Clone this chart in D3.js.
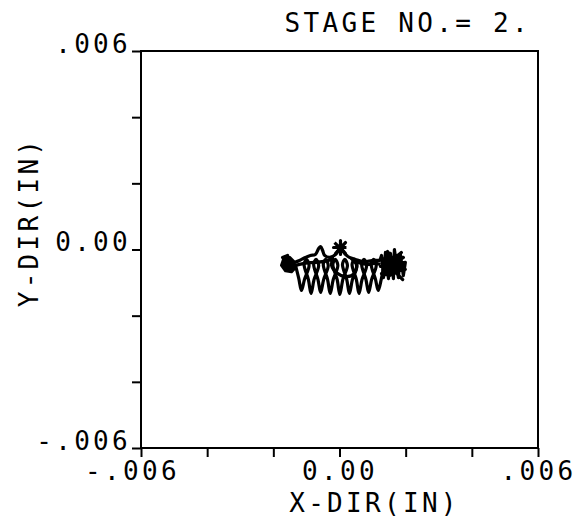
<!DOCTYPE html>
<html>
<head>
<meta charset="utf-8">
<script src="https://cdn.jsdelivr.net/npm/d3@7"></script>
<style>
  body { margin: 0; background: #fff; }
  svg text {
    font-family: "DejaVu Sans Mono", "Liberation Mono", monospace;
    font-size: 26px;
    letter-spacing: 3.3px;
    fill: #000;
  }
</style>
</head>
<body>
<div id="chart"></div>
<script>

// orbit traces, units of 1e-4 inch
var leftKnot = [[-13.6,-3.9],[-15.1,-2.4],[-16.9,-3.0],[-17.5,-4.8],[-16.3,-6.4],[-14.5,-6.7],
  [-13.3,-5.4],[-14.2,-3.3],[-16.0,-3.6],[-16.6,-5.4],[-15.1,-5.7],[-14.5,-4.5],[-15.7,-4.2],
  [-17.2,-2.4],[-15.7,-1.8],[-16.9,-4.2],[-15.4,-6.4],[-13.9,-5.7],[-14.8,-3.0],[-16.3,-4.8],
  [-14.2,-4.8],[-13.0,-4.8]];

var coilPath = [[-13.3,-4.8],[-12.3,-8.8],
  [-11.5,-12.4],[-10.6,-9.1],[-9.2,-4.8],[-10.0,-3.0],[-10.7,-4.5],[-9.4,-9.1],
  [-8.6,-13.3],[-7.7,-9.1],[-6.3,-4.8],[-7.1,-3.0],[-7.8,-4.5],[-6.5,-9.1],
  [-5.7,-13.0],[-4.8,-9.1],[-3.4,-4.8],[-4.2,-3.0],[-4.9,-4.5],[-3.6,-9.1],
  [-2.8,-13.3],[-1.9,-9.1],[-0.5,-4.8],[-1.3,-3.0],[-2.0,-4.5],[-0.7,-9.1],
  [0.1,-13.6],[1.0,-9.1],[2.4,-4.8],[1.6,-3.0],[0.9,-4.5],[2.2,-9.1],
  [3.0,-13.3],[3.9,-9.1],[5.3,-4.8],[4.5,-3.0],[3.8,-4.5],[5.1,-9.1],
  [5.9,-13.3],[6.8,-9.1],[8.2,-4.8],[7.4,-3.0],[6.7,-4.5],[8.0,-9.1],
  [8.8,-13.0],[9.7,-9.1],[11.1,-4.8],[10.3,-3.0],[9.6,-4.5],[10.9,-9.1],
  [11.7,-12.4],[12.6,-9.1],[13.3,-5.7]];

var upperTrack = [[-13.6,-3.9],[-12.1,-3.3],[-10.3,-2.4],[-8.8,-1.8],[-7.3,-1.5],[-6.3,0.3],
  [-5.7,0.9],[-5.1,-0.3],[-4.5,-1.8],[-3.0,-2.4],[-1.2,-1.5],[-0.3,-0.3],[0.3,0.6],[0.9,-0.3],
  [1.8,-1.5],[3.0,-2.4],[4.8,-3.0],[6.7,-3.6],[8.5,-3.6],[10.3,-3.3],[12.4,-3.3]];

var lowerTrack = [[-13.3,-4.8],[-10.6,-4.2],[-7.6,-3.9],[-4.5,-3.6],[-2.7,-3.0],[-2.1,-2.4],
  [-2.4,-4.8],[-0.9,-7.0],[2.1,-8.2],[4.5,-7.3],[5.1,-4.5],[3.6,-2.7],[5.7,-3.9],[8.5,-4.5],
  [10.6,-4.2],[12.4,-4.5]];

var starKnot = [[-1.5,2.1],[1.8,-1.2],[0.3,0.6],[1.8,2.1],[-1.2,-1.2],[0.3,0.6],[0.3,2.7],
  [0.3,-1.5],[0.3,0.6],[-1.8,0.6],[2.1,0.6]];

var rightKnot = [[12.1,-3.6],[12.7,-1.8],[13.3,-8.5],[13.9,-0.9],[14.8,-8.8],[15.4,-1.2],
  [16.3,-8.8],[16.6,0.0],[17.8,-8.5],[18.4,-1.5],[19.3,-7.9],[19.9,-3.9],[12.4,-5.1],
  [19.9,-6.0],[12.7,-7.3],[19.3,-2.4],[13.3,-3.0],[19.1,-9.1],[14.5,-4.5],[17.5,-4.8],
  [15.7,-6.4],[16.9,-3.3],[14.2,-6.7],[18.1,-5.7],[14.5,-0.6],[15.1,-4.2],[18.7,-0.9],
  [17.2,-2.1],[13.6,-5.7],[18.7,-4.2],[15.1,-7.9],[19.6,-5.1],[13.0,-2.7],[16.0,-5.1],
  [17.8,-6.7],[13.9,-7.6],[16.6,-2.1],[19.0,-3.0]];

var tickValues = [-0.006, -0.004, -0.002, 0, 0.002, 0.004, 0.006];
var xTickLabels = ["-.006", "", "", "0.00", "", "", ".006"];
var yTickLabels = ["-.006", "", "", "0.00", "", "", ".006"];
var chartTitle = "STAGE NO.= 2.";
var xTitle = "X-DIR(IN)";
var yTitle = "Y-DIR(IN)";

var svgWidth = 583;
var svgHeight = 518;
var margin = { top: 51, left: 141 };
var width = 397;
var height = 397;

var svg = d3.select("#chart")
  .append("svg")
  .attr("width", svgWidth)
  .attr("height", svgHeight);

var chartGroup = svg.append("g")
  .attr("transform", `translate(${margin.left}, ${margin.top})`);

var xScale = d3.scaleLinear().domain([-0.006, 0.006]).range([0, width]);
var yScale = d3.scaleLinear().domain([-0.006, 0.006]).range([height, 0]);

// bottom axis, ticks pointing down
var xAxis = chartGroup.append("g")
  .attr("transform", `translate(0, ${height})`)
  .call(d3.axisBottom(xScale).tickValues(tickValues).tickSize(9)
    .tickFormat((d, i) => xTickLabels[i]));
xAxis.select(".domain").remove();
xAxis.selectAll("line").attr("stroke", "#000").attr("stroke-width", 2);
xAxis.selectAll("text").attr("y", 32).attr("dy", 0)
  .attr("dx", (d, i) => xTickLabels[i].charAt(0) == "-" ? -9 : 0);

// left axis, ticks pointing left
var yAxis = chartGroup.append("g")
  .call(d3.axisLeft(yScale).tickValues(tickValues).tickSize(9)
    .tickFormat((d, i) => yTickLabels[i]));
yAxis.select(".domain").remove();
yAxis.selectAll("line").attr("stroke", "#000").attr("stroke-width", 2);
yAxis.selectAll("text").attr("x", -10).attr("dy", 0).attr("y", 1);

// frame
chartGroup.append("rect")
  .attr("width", width)
  .attr("height", height)
  .attr("fill", "none")
  .attr("stroke", "#000")
  .attr("stroke-width", 2);

var smoothLine = d3.line()
  .x(d => xScale(d[0] * 1e-4))
  .y(d => yScale(d[1] * 1e-4))
  .curve(d3.curveCatmullRom);

var roughLine = d3.line()
  .x(d => xScale(d[0] * 1e-4))
  .y(d => yScale(d[1] * 1e-4));

[coilPath, upperTrack, lowerTrack].forEach(function(trace) {
  chartGroup.append("path")
    .attr("d", smoothLine(trace))
    .attr("fill", "none")
    .attr("stroke", "#000")
    .attr("stroke-width", 3.2)
    .attr("stroke-linejoin", "round");
});

[leftKnot, starKnot, rightKnot].forEach(function(trace) {
  chartGroup.append("path")
    .attr("d", roughLine(trace))
    .attr("fill", "none")
    .attr("stroke", "#000")
    .attr("stroke-width", 3.2)
    .attr("stroke-linejoin", "round");
});

// titles
svg.append("text")
  .attr("x", 531)
  .attr("y", 32)
  .attr("text-anchor", "end")
  .text(chartTitle);

svg.append("text")
  .attr("x", margin.left + xScale(0) + 35)
  .attr("y", 512)
  .attr("text-anchor", "middle")
  .text(xTitle);

svg.append("text")
  .attr("transform", "translate(38, 222) rotate(-90)")
  .attr("text-anchor", "middle")
  .text(yTitle);

</script>
</body>
</html>
